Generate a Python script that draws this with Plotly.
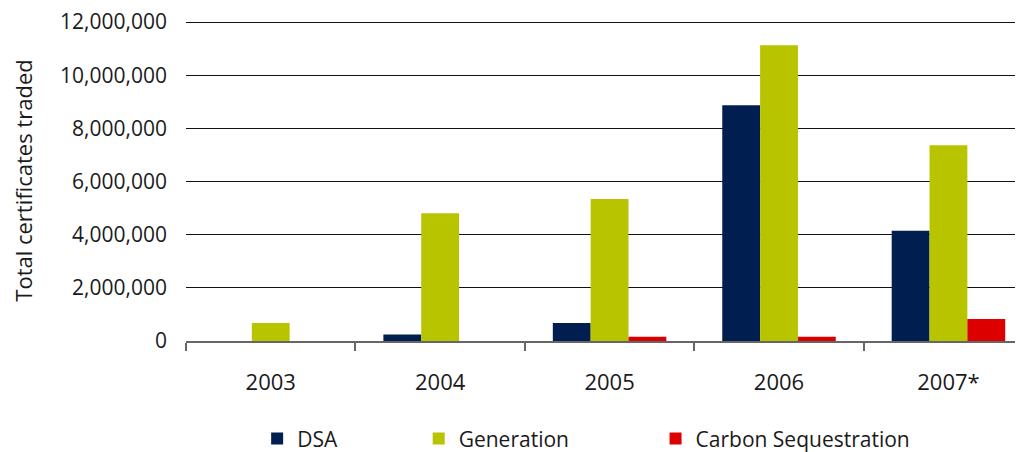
import plotly.graph_objects as go

years = ["2003", "2004", "2005", "2006", "2007*"]
dsa = [0, 240000, 680000, 8870000, 4150000]
generation = [680000, 4810000, 5340000, 11130000, 7370000]
carbon = [0, 0, 160000, 160000, 830000]

font = "Open Sans"

fig = go.Figure()
series = [
    ("DSA", dsa, "#001e50", "legend", 0.085),
    ("Generation", generation, "#b8c400", "legend2", 0.278),
    ("Carbon Sequestration", carbon, "#dd0000", "legend3", 0.561),
]
for name, vals, color, leg, _ in series:
    fig.add_trace(
        go.Bar(
            x=years,
            y=vals,
            name=name,
            marker=dict(color=color, line=dict(width=0)),
            legend=leg,
            showlegend=True,
        )
    )

legend_style = dict(
    orientation="h",
    yanchor="middle",
    y=-0.305,
    xanchor="left",
    font=dict(family=font, size=21, color="#1a1a1a"),
    bgcolor="rgba(0,0,0,0)",
    borderwidth=0,
    visible=True,
)
legends = {}
for name, vals, color, leg, xpos in series:
    legends[leg] = dict(legend_style, x=xpos)

# page body has an 8px margin, so the figure is sized/offset to compensate
fig.update_layout(
    width=1015,
    height=444,
    margin=dict(l=178, r=0, t=12, b=111, autoexpand=False),
    plot_bgcolor="white",
    paper_bgcolor="white",
    showlegend=True,
    barmode="group",
    bargap=0.33,
    bargroupgap=0,
    font=dict(family=font, size=22, color="#1a1a1a"),
    xaxis=dict(
        range=[-0.5, 4.44],
        showgrid=False,
        showline=True,
        linecolor="#666666",
        linewidth=1.5,
        ticks="outside",
        tickson="boundaries",
        ticklen=8,
        tickwidth=1.5,
        tickcolor="#666666",
        ticklabelstandoff=21,
        tickfont=dict(size=22),
    ),
    yaxis=dict(
        range=[0, 12080000],
        tickvals=[0, 2000000, 4000000, 6000000, 8000000, 10000000, 12000000],
        tickformat=",d",
        ticklabeloverflow="allow",
        showgrid=True,
        gridcolor="#111111",
        gridwidth=1.3,
        zeroline=False,
        showline=False,
        ticklabelstandoff=18,
        tickfont=dict(size=21),
        title=dict(text="Total certificates traded", font=dict(size=22), standoff=22),
    ),
    **legends,
)

fig.write_html("out.html")
